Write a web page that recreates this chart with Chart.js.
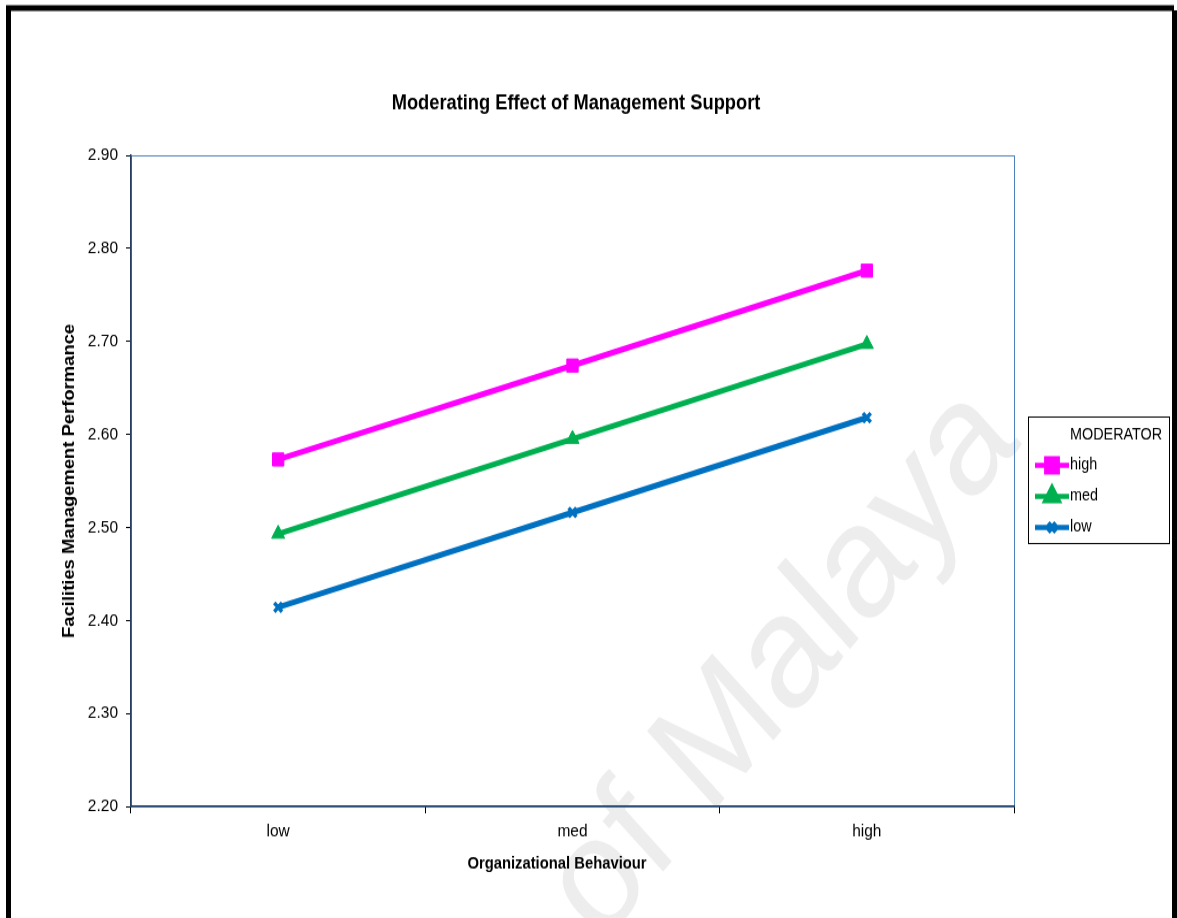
<!DOCTYPE html>
<html>
<head>
<meta charset="utf-8">
<title>Moderating Effect of Management Support</title>
<script src="https://cdn.jsdelivr.net/npm/chart.js@4.4.0/dist/chart.umd.min.js"></script>
<style>
  html, body { margin: 0; padding: 0; background: #fff; }
  #wrap { width: 1177px; height: 918px; overflow: hidden; }
  /* drawn at 798px tall and shown at 918px, which gives the tall, narrow lettering */
  #moderationChart { width: 1177px; height: 918px; }
</style>
</head>
<body>
<div id="wrap"><canvas id="moderationChart" width="1177" height="798" style="width:1177px;height:918px"></canvas></div>
<script>
// levels of organizational behaviour on the x axis
const categories = ['low', 'med', 'high'];

// predicted facilities management performance per moderator level
const moderatorLabels = ['high', 'med', 'low'];
const highSupport = [2.573, 2.674, 2.776];
const medSupport = [2.493, 2.595, 2.697];
const lowSupport = [2.414, 2.516, 2.618];

// y axis range
const yMin = 2.20;
const yMax = 2.90;
const yStep = 0.10;

const FONT = "'Liberation Sans', Arial, sans-serif";

const seriesColors = ['#ff00ff', '#00b050', '#0070c0'];
const seriesStyles = ['rect', 'triangle', 'crossRot'];
const seriesRadius = [8, 7.5, 5.5];
const seriesPointBorder = [1, 1, 3.5];

// background, watermark, titles, legend box and frame
const chartDecor = {
    id: 'chartDecor',
    beforeDraw(chart) {
        const ctx = chart.ctx;
        const area = chart.chartArea;
        ctx.save();
        ctx.fillStyle = '#fff';
        ctx.fillRect(0, 0, chart.width, chart.height);

        // faint watermark
        ctx.translate(1022, 386);
        ctx.rotate(-46 * Math.PI / 180);
        ctx.font = '140px ' + FONT;
        ctx.fillStyle = '#ededed';
        ctx.textAlign = 'right';
        ctx.textBaseline = 'alphabetic';
        ctx.fillText('University of Malaya', 0, 0);
        ctx.restore();

        // plot area outline
        ctx.save();
        ctx.strokeStyle = '#4f81bd';
        ctx.lineWidth = 1;
        ctx.strokeRect(area.left + 0.5, area.top + 0.5, area.right - area.left, area.bottom - area.top);
        ctx.restore();
    },
    afterDraw(chart) {
        const ctx = chart.ctx;
        ctx.save();

        // chart title
        ctx.fillStyle = '#000';
        ctx.font = 'bold 18.3px ' + FONT;
        ctx.textAlign = 'center';
        ctx.textBaseline = 'middle';
        ctx.fillText('Moderating Effect of Management Support', 576, 89.5);

        // x axis title
        ctx.font = 'bold 14.8px ' + FONT;
        ctx.fillText('Organizational Behaviour', 557, 751);

        // legend
        ctx.fillStyle = '#fff';
        ctx.fillRect(1028, 362.5, 141, 110);
        ctx.strokeStyle = '#000';
        ctx.lineWidth = 1;
        ctx.strokeRect(1028.5, 362.5, 141, 110);

        ctx.fillStyle = '#000';
        ctx.font = '14.4px ' + FONT;
        ctx.textAlign = 'left';
        ctx.fillText('MODERATOR', 1070, 378.5);

        chart.data.datasets.forEach((ds, i) => {
            const y = 404.5 + 27 * i;
            ctx.strokeStyle = ds.borderColor;
            ctx.lineWidth = 4.5;
            ctx.beginPath();
            ctx.moveTo(1035, y);
            ctx.lineTo(1069, y);
            ctx.stroke();
            ctx.fillStyle = ds.backgroundColor;
            ctx.strokeStyle = ds.borderColor;
            Chart.helpers.drawPoint(ctx, {
                pointStyle: ds.pointStyle,
                radius: ds.pointRadius,
                borderWidth: ds.pointBorderWidth,
                rotation: 0
            }, 1052, y);
            ctx.fillStyle = '#000';
            ctx.fillText(ds.label, 1070, y);
        });

        // outer frame
        ctx.fillStyle = '#000';
        ctx.fillRect(6, 5, 5, chart.height - 5);
        ctx.fillRect(6, 4.5, 1168, 5);
        ctx.fillRect(1172, 9, 5, chart.height - 9);
        ctx.restore();
    }
};

const seriesValues = [highSupport, medSupport, lowSupport];
const datasets = moderatorLabels.map((label, i) => ({
    label: label,
    data: seriesValues[i],
    borderColor: seriesColors[i],
    backgroundColor: seriesColors[i],
    borderWidth: 5,
    pointStyle: seriesStyles[i],
    pointRadius: seriesRadius[i],
    pointBorderWidth: seriesPointBorder[i],
    pointBackgroundColor: seriesColors[i],
    pointBorderColor: seriesColors[i],
    tension: 0
}));

const ctx = document.getElementById('moderationChart').getContext('2d');
new Chart(ctx, {
    type: 'line',
    data: {
        labels: categories,
        datasets: datasets
    },
    options: {
        responsive: false,
        animation: false,
        devicePixelRatio: 1,
        layout: {
            padding: { left: 0, right: 163, top: 135, bottom: 0 }
        },
        plugins: {
            legend: { display: false },
            title: { display: false },
            tooltip: { enabled: false }
        },
        scales: {
            x: {
                offset: true,
                grid: { offset: true, drawOnChartArea: false, tickLength: 6, tickColor: '#000' },
                border: { color: '#243f60', width: 1.5 },
                ticks: { padding: 6, color: '#000', font: { family: FONT, size: 15.5 } },
                afterFit: scale => { scale.height = 97; }
            },
            y: {
                min: yMin,
                max: yMax,
                grid: { drawOnChartArea: false, tickLength: 5, tickColor: '#000' },
                border: { color: '#243f60', width: 1.5 },
                ticks: {
                    stepSize: yStep,
                    padding: 8,
                    color: '#000',
                    font: { family: FONT, size: 15.5 },
                    callback: v => v.toFixed(2)
                },
                title: {
                    display: true,
                    text: 'Facilities Management Performance',
                    color: '#000',
                    font: { family: FONT, size: 16, weight: 'bold' },
                    padding: { top: 60, bottom: 0 }
                },
                afterFit: scale => { scale.width = 131; }
            }
        }
    },
    plugins: [chartDecor]
});
</script>
</body>
</html>
